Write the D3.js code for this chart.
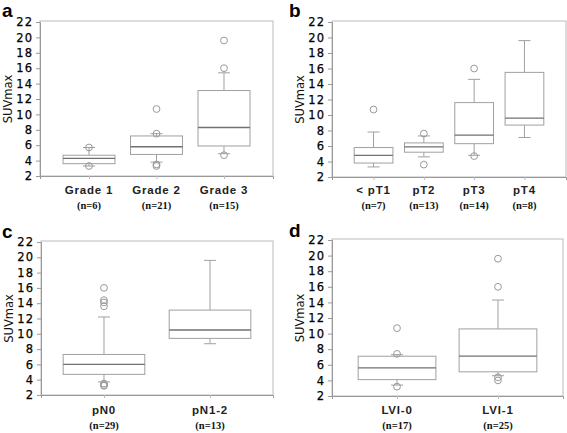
<!DOCTYPE html>
<html><head><meta charset="utf-8">
<script src="https://cdn.jsdelivr.net/npm/d3@7"></script>
<style>body{margin:0;background:#fff}svg{display:block}</style>
</head><body>
<script>
// ---- Data ----
const yTicks = [2,4,6,8,10,12,14,16,18,20,22];

const catsA = ["Grade 1","Grade 2","Grade 3"];
const nA = ["(n=6)","(n=21)","(n=15)"];
const q1A = [3.6, 4.8, 5.9];
const medA = [4.3, 5.8, 8.3];
const q3A = [4.7, 7.2, 13.1];
const loA = [3.3, 3.8, 4.9];
const hiA = [5.7, 7.5, 15.4];
const outA = [[5.7, 3.3], [10.7, 7.5, 3.3, 3.5], [19.6, 16.0, 4.7]];

const catsB = ["< pT1","pT2","pT3","pT4"];
const nB = ["(n=7)","(n=13)","(n=14)","(n=8)"];
const q1B = [3.8, 5.2, 6.3, 8.7];
const medB = [4.8, 5.9, 7.4, 9.6];
const q3B = [5.8, 6.4, 11.6, 15.5];
const loB = [3.3, 4.6, 4.8, 7.1];
const hiB = [7.8, 7.3, 14.6, 19.6];
const outB = [[10.7], [7.6, 3.6], [16.0, 4.7], []];

const catsC = ["pN0","pN1-2"];
const nC = ["(n=29)","(n=13)"];
const q1C = [4.7, 9.4];
const medC = [6.0, 10.5];
const q3C = [7.3, 13.1];
const loC = [3.7, 8.7];
const hiC = [12.2, 19.6];
const outC = [[16.0, 14.4, 14.1, 13.6, 3.5, 3.3, 3.2], []];

const catsD = ["LVI-0","LVI-1"];
const nD = ["(n=17)","(n=25)"];
const q1D = [4.1, 5.1];
const medD = [5.6, 7.1];
const q3D = [7.1, 10.6];
const loD = [3.4, 4.6];
const hiD = [7.3, 14.3];
const outD = [[10.7, 7.4, 3.2], [19.6, 16.0, 4.4, 4.0]];

// ---- Layout ----
const panels = [
  {letter:"a", lx:2, ly:17, x0:40, x1:273, yT:22, yB:176, pad:0.726, cats:catsA, ns:nA, q1:q1A, med:medA, q3:q3A, lo:loA, hi:hiA, out:outA, catY:194, nY:209},
  {letter:"b", lx:289, ly:17, x0:332, x1:566, yT:22, yB:177, pad:0.826, cats:catsB, ns:nB, q1:q1B, med:medB, q3:q3B, lo:loB, hi:hiB, out:outB, catY:194, nY:209},
  {letter:"c", lx:2, ly:238, x0:41, x1:273, yT:242, yB:395, pad:0.594, cats:catsC, ns:nC, q1:q1C, med:medC, q3:q3C, lo:loC, hi:hiC, out:outC, catY:414, nY:429},
  {letter:"d", lx:289, ly:237, x0:332, x1:563, yT:240, yB:396, pad:0.644, cats:catsD, ns:nD, q1:q1D, med:medD, q3:q3D, lo:loD, hi:hiD, out:outD, catY:414, nY:429}
];

const svg = d3.select("body").append("svg").attr("width",567).attr("height",433);

panels.forEach(p => {
  const g = svg.append("g");
  const y = d3.scaleLinear().domain([2,22]).range([p.yB, p.yT]);
  const x = d3.scalePoint().domain(p.cats).range([p.x0, p.x1]).padding(p.pad);
  const bw = x.step() * 0.77;
  const cap = 12;

  // panel letter
  g.append("text").attr("x", p.lx).attr("y", p.ly)
    .attr("font-family","Liberation Sans, Arial, sans-serif").attr("font-weight","bold")
    .attr("font-size", 19).attr("fill","#000").text(p.letter);

  // frame
  g.append("rect").attr("x", p.x0).attr("y", p.yT - 1).attr("width", p.x1 - p.x0).attr("height", p.yB - p.yT + 1)
    .attr("fill","none").attr("stroke","#bbb").attr("stroke-width",1);

  // y axis
  const ya = g.append("g").attr("transform", `translate(${p.x0},0)`)
    .call(d3.axisLeft(y).tickValues(yTicks).tickSize(4).tickPadding(3));
  ya.select(".domain").attr("stroke","#999");
  ya.selectAll(".tick line").attr("stroke","#999");
  ya.selectAll(".tick text").attr("font-family","DejaVu Sans, sans-serif").attr("font-size",11.5)
    .attr("letter-spacing","1px").attr("fill","#000").attr("stroke","#000").attr("stroke-width",0.25);

  // x axis ticks
  const xa = g.append("g").attr("transform", `translate(0,${p.yB})`)
    .call(d3.axisBottom(x).tickSize(3).tickFormat(""));
  xa.select(".domain").attr("stroke","#999");
  xa.selectAll(".tick line").attr("stroke","#bbb");

  // y label
  g.append("text").attr("transform", `translate(${p.x0 - 28},${(p.yT + p.yB)/2}) rotate(-90)`)
    .attr("text-anchor","middle").attr("font-family","DejaVu Sans, sans-serif").attr("font-size",11.5)
    .attr("fill","#111").text("SUVmax");

  // category labels
  g.selectAll(".cat").data(p.cats).enter().append("text")
    .attr("x", d => x(d)).attr("y", p.catY).attr("text-anchor","middle")
    .attr("font-family","Liberation Sans, Arial, sans-serif").attr("font-weight","bold").attr("font-size",11.5)
    .attr("letter-spacing","0.8px").attr("fill","#222").text(d => d);
  g.selectAll(".n").data(p.ns).enter().append("text")
    .attr("x", (d,i) => x(p.cats[i])).attr("y", p.nY).attr("text-anchor","middle")
    .attr("font-family","Liberation Serif, Times New Roman, serif").attr("font-weight","bold").attr("font-size",10.5)
    .attr("fill","#111").text(d => d);

  const stroke = "#a0a0a0";
  p.cats.forEach((c, i) => {
    const cx = x(c);
    // whiskers
    g.append("line").attr("x1",cx).attr("x2",cx).attr("y1",y(p.q3[i])).attr("y2",y(p.hi[i])).attr("stroke",stroke);
    g.append("line").attr("x1",cx).attr("x2",cx).attr("y1",y(p.q1[i])).attr("y2",y(p.lo[i])).attr("stroke",stroke);
    g.append("line").attr("x1",cx-cap/2).attr("x2",cx+cap/2).attr("y1",y(p.hi[i])).attr("y2",y(p.hi[i])).attr("stroke",stroke);
    g.append("line").attr("x1",cx-cap/2).attr("x2",cx+cap/2).attr("y1",y(p.lo[i])).attr("y2",y(p.lo[i])).attr("stroke",stroke);
    // box
    g.append("rect").attr("x",cx-bw/2).attr("y",y(p.q3[i])).attr("width",bw).attr("height",y(p.q1[i])-y(p.q3[i]))
      .attr("fill","#fff").attr("stroke",stroke);
    // median
    g.append("line").attr("x1",cx-bw/2).attr("x2",cx+bw/2).attr("y1",y(p.med[i])).attr("y2",y(p.med[i]))
      .attr("stroke","#707070").attr("stroke-width",1.3);
    // outliers
    g.selectAll(null).data(p.out[i]).enter().append("circle")
      .attr("cx",cx).attr("cy",d => y(d)).attr("r",3.4)
      .attr("fill","none").attr("stroke","#999").attr("stroke-width",1);
  });
});
</script>
</body></html>
